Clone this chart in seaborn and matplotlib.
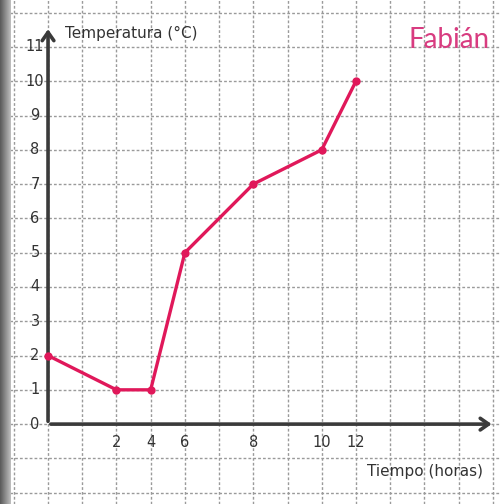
import matplotlib
matplotlib.use("Agg")
import matplotlib.pyplot as plt
import seaborn as sns
import pandas as pd
import numpy as np

hours = [0, 2, 4, 6, 8, 10, 12]
x_cells = [0, 2, 3, 4, 6, 8, 9]          # position of each hour label on the grid
temperature = [2, 1, 1, 5, 7, 8, 10]
y_ticks = list(range(0, 12))

df = pd.DataFrame({"x": x_cells, "temp": temperature})

sns.set_theme(style="white")
plt.rcParams["font.family"] = ["DejaVu Sans"]

fig = plt.figure(figsize=(5.02, 5.04), dpi=100)
ax = fig.add_axes([0, 0, 1, 1])
ax.set_xlim(-1.404, 13.27)
ax.set_ylim(-2.33, 12.37)

# graph-paper grid
grid_kw = dict(color="#9a9a9a", lw=1.0, ls=(0, (2, 1.5)), zorder=1)
for gx in range(-1, 14):
    ax.axvline(gx, **grid_kw)
for gy in range(-2, 13):
    ax.axhline(gy, **grid_kw)

# axes with arrows
ax.annotate("", xy=(0, 11.6), xytext=(0, 0),
            arrowprops=dict(arrowstyle="->,head_width=0.35,head_length=0.5", color="#3a3a3a", lw=2.6),
            zorder=3)
ax.annotate("", xy=(13.05, 0), xytext=(0, 0),
            arrowprops=dict(arrowstyle="->,head_width=0.35,head_length=0.5", color="#3a3a3a", lw=2.6),
            zorder=3)

sns.lineplot(data=df, x="x", y="temp", ax=ax, color="#e0185a", lw=2.4,
             marker="o", markersize=6, markeredgewidth=0, zorder=5)

# tick labels
for v in y_ticks:
    ax.text(-0.38, v, str(v), ha="center", va="center", fontsize=10.5, color="#333333", zorder=4)
for h, cx in zip(hours[1:], x_cells[1:]):
    ax.text(cx, -0.55, str(h), ha="center", va="center", fontsize=10.5, color="#333333", zorder=4)

ax.text(0.5, 11.4, "Temperatura (°C)", ha="left", va="center", fontsize=11, color="#333333")
ax.text(12.7, -1.38, "Tiempo (horas)", ha="right", va="center", fontsize=11, color="#333333")
ax.text(12.9, 11.2, "Fabián", ha="right", va="center", fontsize=20, color="#d83c80",
        family=["Lato", "DejaVu Sans"])

ax.set_xlabel("")
ax.set_ylabel("")
ax.set_xticks([])
ax.set_yticks([])
for s in ax.spines.values():
    s.set_visible(False)

# scanner edge on the left (gradient)
grad = np.linspace(0.35, 0.75, 64).reshape(1, -1)
edge_ax = fig.add_axes([0, 0, 11 / 502, 1])
edge_ax.imshow(grad, cmap="gray", vmin=0, vmax=1, aspect="auto")
edge_ax.set_axis_off()

fig.savefig("out.png", dpi=100)
